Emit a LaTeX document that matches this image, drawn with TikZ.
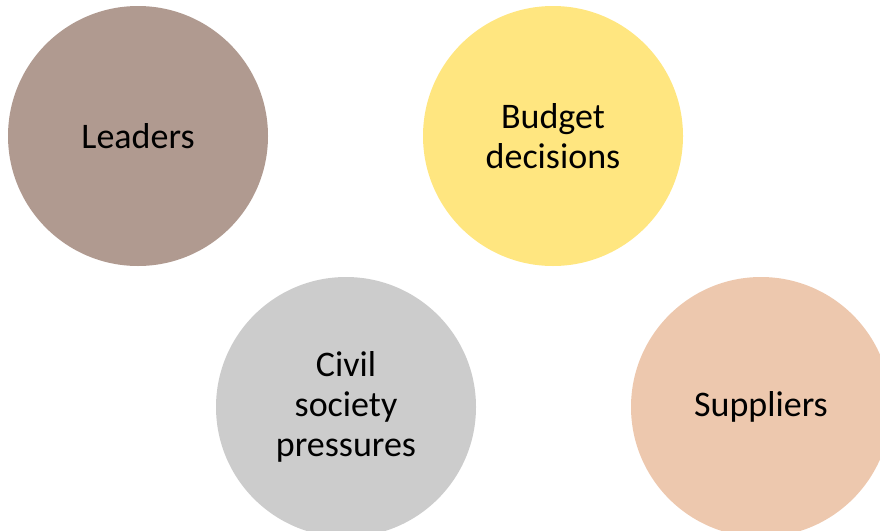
\documentclass[tikz,border=0pt]{standalone}
\usepackage{fontspec}
\setmainfont{Carlito}
\definecolor{cLead}{HTML}{B09A90}
\definecolor{cBudget}{HTML}{FFE680}
\definecolor{cCivil}{HTML}{CCCCCC}
\definecolor{cSupp}{HTML}{EDC8AE}
\begin{document}
\begin{tikzpicture}[x=1pt,y=-1pt,
  bubble/.style={circle,minimum size=260pt,inner sep=0pt,draw=none,align=center,
    font=\fontsize{36}{40}\selectfont,text=black}]
\useasboundingbox (0,0) rectangle (880,530);
\begin{scope}
\clip (0,0) rectangle (880,530);
\node[bubble,fill=cLead] (lead) at (138,136) {Leaders};
\node[bubble,fill=cBudget] (budget) at (553,136) {Budget\\decisions};
\node[bubble,fill=cCivil] (civil) at (346,407) {Civil\\society\\pressures};
\node[bubble,fill=cSupp] (supp) at (761,407) {Suppliers};
\end{scope}
\end{tikzpicture}
\end{document}
